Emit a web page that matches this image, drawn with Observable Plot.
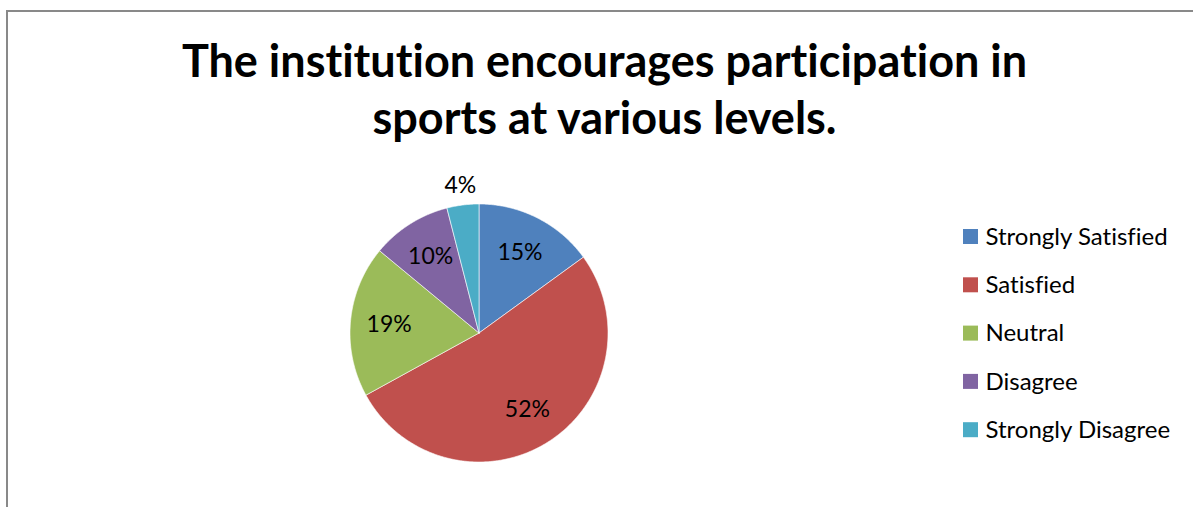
<!DOCTYPE html>
<html><head><meta charset="utf-8">
<script src="https://cdn.jsdelivr.net/npm/d3@7"></script>
<script src="https://cdn.jsdelivr.net/npm/@observablehq/plot@0.6"></script>
<style>
html,body{margin:0;padding:0;background:#fff;overflow:hidden;width:1193px;height:507px}
#frame{position:absolute;left:6px;top:10px;width:1400px;height:800px;border:2px solid #898989;box-sizing:border-box}
#chart{position:absolute;left:0;top:0}
#chart text{font-variant-ligatures:none}
</style></head><body>
<div id="frame"></div><div id="chart"></div>
<script>
const categories = ["Strongly Satisfied","Satisfied","Neutral","Disagree","Strongly Disagree"];
const percents = [15,52,19,10,4];
const colors = ["#4F81BD","#C0504D","#9BBB59","#8064A2","#4BACC6"];
const titleLines = ["The institution encourages participation in","sports at various levels."];

const W = 1193, H = 507;
const cx = 478.5, cy = 332.5, R = 129;
const font = "Lato, 'Open Sans', sans-serif";

const slices = categories.map((c, i) => ({name: c, value: percents[i]}));
const arcs = d3.pie().sort(null).value(d => d.value)(slices);

const poly = [];
arcs.forEach(a => {
  const n = Math.max(2, Math.ceil((a.endAngle - a.startAngle) / (Math.PI / 360)));
  poly.push({name: a.data.name, x: cx, y: cy});
  for (let k = 0; k <= n; k++) {
    const t = a.startAngle + (a.endAngle - a.startAngle) * k / n;
    poly.push({name: a.data.name, x: cx + R * Math.sin(t), y: cy - R * Math.cos(t)});
  }
  poly.push({name: a.data.name, x: cx, y: cy});
});

const labels = arcs.map(a => {
  const m = (a.startAngle + a.endAngle) / 2;
  const r = a.data.value < 5 ? 1.15 * R : 0.7 * R;
  return {text: a.data.value + "%", x: cx + r * Math.sin(m), y: cy - r * Math.cos(m)};
});

const legendRows = categories.map((c, i) => ({name: c, y: 236.5 + i * 48.3}));

const titleFs = 45;
const titleRows = titleLines.map((t, i) => ({text: t, y: 62 + i * 57.5}));

const chart = Plot.plot({
  width: W, height: H, margin: 0,
  x: {domain: [0, W], range: [0, W], axis: null},
  y: {domain: [0, H], range: [0, H], axis: null},
  color: {domain: categories, range: colors},
  style: {fontFamily: font, background: "transparent", overflow: "visible"},
  marks: [
    Plot.line(poly, {x: "x", y: "y", z: "name", fill: "name", stroke: "white", strokeWidth: 1, strokeOpacity: 0.6, curve: "linear"}),
    Plot.text(labels, {x: "x", y: "y", text: "text", fontSize: 23, fill: "black", lineAnchor: "middle"}),
    Plot.text(titleRows, {x: 604, y: "y", text: "text", fontSize: titleFs, fontWeight: "bold", fill: "black", lineAnchor: "middle", ariaLabel: "title"}),
    Plot.rect(legendRows, {x1: 963, x2: 978, y1: d => d.y - 7.5, y2: d => d.y + 7.5, fill: "name"}),
    Plot.text(legendRows, {x: 985, y: "y", text: "name", textAnchor: "start", fontSize: 24, fill: "black", lineAnchor: "middle", ariaLabel: "legend"})
  ]
});
document.getElementById("chart").appendChild(chart);
</script>
</body></html>
